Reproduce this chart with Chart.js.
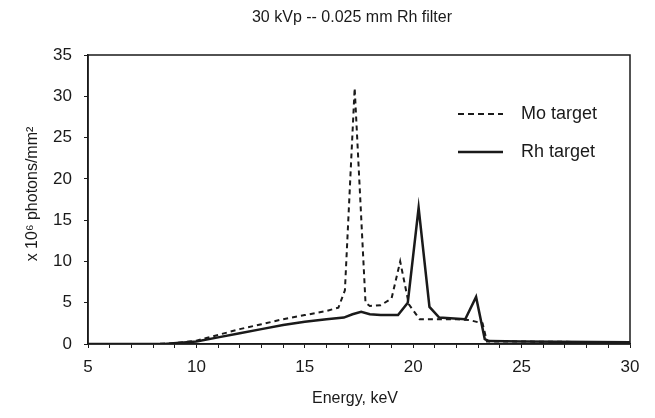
<!DOCTYPE html>
<html>
<head>
<meta charset="utf-8">
<script src="https://cdn.jsdelivr.net/npm/chart.js@4"></script>
<style>
  html, body { margin: 0; padding: 0; background: #fff; }
  #wrap { width: 655px; height: 418px; }
</style>
</head>
<body>
<div id="wrap"><canvas id="spectrumChart" width="655" height="418"></canvas></div>
<script>
(function () {
    'use strict';

    const chartTitle = "30 kVp -- 0.025 mm Rh filter";
    const xTitle = "Energy, keV";
    const yTitle = "x 10\u2076 photons/mm\u00B2";

    // Mo target spectrum (energy keV / value)
    const moEnergy = [5, 8, 9, 10, 11, 12, 13, 14, 15, 16, 16.55, 16.85, 17.3, 17.8, 18, 18.5, 19, 19.4, 19.8, 20.3, 21, 22, 22.6, 23.2, 23.4, 25, 30];
    const moValues = [0, 0, 0.1, 0.4, 1.1, 1.8, 2.4, 3.0, 3.5, 4.0, 4.4, 6.5, 31, 5, 4.6, 4.7, 5.5, 10, 4.8, 3.0, 3.0, 3.0, 2.9, 2.5, 0.3, 0.3, 0.2];

    // Rh target spectrum
    const rhEnergy = [5, 8.5, 10, 11, 12, 13, 14, 15, 16, 16.8, 17.2, 17.6, 18, 18.5, 19.3, 19.75, 20.25, 20.75, 21.2, 22.4, 22.9, 23.3, 23.5, 25, 30];
    const rhValues = [0, 0, 0.3, 0.8, 1.3, 1.8, 2.3, 2.7, 3.0, 3.2, 3.6, 3.9, 3.6, 3.5, 3.5, 5.0, 16.5, 4.5, 3.2, 3.0, 5.7, 0.6, 0.35, 0.3, 0.2];

    const seriesNames = ["Mo target", "Rh target"];

    const FONT = "'Liberation Sans', Arial, sans-serif";
    const INK = "#1a1a1a";

    function toPoints(xs, ys) {
        return xs.map((x, i) => ({ x: x, y: ys[i] }));
    }

    // title, axis titles, box border and the legend inside the plot
    const decorPlugin = {
        id: "decor",
        afterDraw(chart) {
            const { ctx, chartArea: a } = chart;
            ctx.save();
            ctx.strokeStyle = INK;
            ctx.lineWidth = 1.5;
            ctx.strokeRect(a.left, a.top, a.right - a.left, a.bottom - a.top);

            ctx.fillStyle = INK;
            ctx.textAlign = "center";
            ctx.textBaseline = "middle";
            ctx.font = "16px " + FONT;
            ctx.fillText(chartTitle, 352, 18);
            ctx.fillText(xTitle, 355, 399);

            ctx.save();
            ctx.translate(33, 194);
            ctx.rotate(-Math.PI / 2);
            ctx.fillText(yTitle, 0, 0);
            ctx.restore();

            // legend
            const rows = [
                { y: 114, dash: [6, 4], width: 2 },
                { y: 152, dash: [], width: 2.5 }
            ];
            rows.forEach((r, i) => {
                ctx.beginPath();
                ctx.setLineDash(r.dash);
                ctx.lineWidth = r.width;
                ctx.moveTo(458, r.y);
                ctx.lineTo(503, r.y);
                ctx.stroke();
                ctx.setLineDash([]);
                ctx.textAlign = "left";
                ctx.font = "18px " + FONT;
                ctx.fillText(seriesNames[i], 521, r.y);
            });
            ctx.restore();
        }
    };

    const ctx = document.getElementById("spectrumChart");
    new Chart(ctx, {
        type: "line",
        data: {
            datasets: [{
                label: seriesNames[0],
                data: toPoints(moEnergy, moValues),
                borderColor: INK,
                borderWidth: 2,
                borderDash: [5, 4],
                pointRadius: 0,
                tension: 0
            }, {
                label: seriesNames[1],
                data: toPoints(rhEnergy, rhValues),
                borderColor: INK,
                borderWidth: 2.5,
                pointRadius: 0,
                tension: 0
            }]
        },
        options: {
            responsive: false,
            animation: false,
            layout: { padding: { top: 55, right: 25, left: 0, bottom: 0 } },
            plugins: {
                legend: { display: false },
                title: { display: false },
                tooltip: { enabled: false }
            },
            scales: {
                x: {
                    type: "linear",
                    min: 5,
                    max: 30,
                    afterFit: s => { s.height = 74; },
                    border: { display: true, color: INK, width: 1.5 },
                    grid: { display: true, drawOnChartArea: false, color: INK, tickLength: 4 },
                    ticks: {
                        stepSize: 1,
                        autoSkip: false,
                        maxRotation: 0,
                        padding: 9,
                        color: INK,
                        font: { size: 17, family: FONT },
                        callback: v => (v % 5 === 0 ? v : "")
                    }
                },
                y: {
                    min: 0,
                    max: 35,
                    afterFit: s => { s.width = 88; },
                    border: { display: true, color: INK, width: 1.5 },
                    grid: { display: true, drawOnChartArea: false, color: INK, tickLength: 4 },
                    ticks: {
                        stepSize: 5,
                        padding: 12,
                        color: INK,
                        font: { size: 17, family: FONT }
                    }
                }
            }
        },
        plugins: [decorPlugin]
    });
})();
</script>
</body>
</html>
